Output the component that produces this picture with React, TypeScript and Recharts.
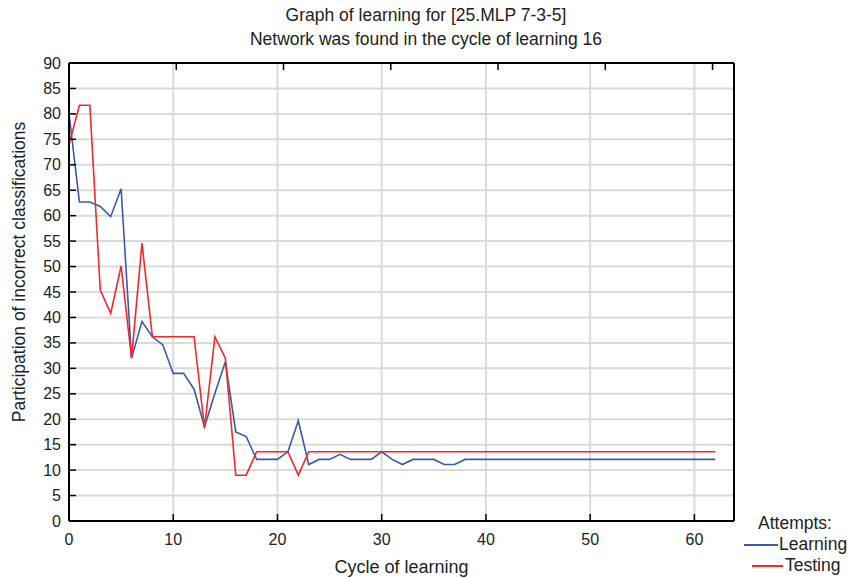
import { LineChart, Line, XAxis, YAxis, CartesianGrid } from "recharts"

const cycles = [
  0, 1, 2, 3, 4, 5, 6, 7, 8, 9, 10, 11, 12, 13, 14, 15, 16, 17, 18, 19, 20, 21, 22, 23, 24, 25, 26, 27, 28, 29, 30,
  31, 32, 33, 34, 35, 36, 37, 38, 39, 40, 41, 42, 43, 44, 45, 46, 47, 48, 49, 50, 51, 52, 53, 54, 55, 56, 57, 58,
  59, 60, 61, 62,
]

const learning = [
  80, 62.7, 62.7, 61.8, 59.8, 65.3, 32, 39.2, 36.2, 34.6, 29, 29, 25.9, 18.5, 25.1, 31.3, 17.5, 16.6, 12.1, 12.1,
  12.1, 13.6, 19.7, 11.1, 12.1, 12.1, 13.1, 12.1, 12.1, 12.1, 13.6, 12.1, 11.1, 12.1, 12.1, 12.1, 11.1, 11.1, 12.1,
  12.1, 12.1, 12.1, 12.1, 12.1, 12.1, 12.1, 12.1, 12.1, 12.1, 12.1, 12.1, 12.1, 12.1, 12.1, 12.1, 12.1, 12.1, 12.1,
  12.1, 12.1, 12.1, 12.1, 12.1,
]

const testing = [
  74, 81.7, 81.7, 45.4, 40.8, 50.1, 32, 54.6, 36.2, 36.2, 36.2, 36.2, 36.2, 18.3, 36.2, 32, 9, 9, 13.6, 13.6, 13.6,
  13.6, 9, 13.6, 13.6, 13.6, 13.6, 13.6, 13.6, 13.6, 13.6, 13.6, 13.6, 13.6, 13.6, 13.6, 13.6, 13.6, 13.6, 13.6,
  13.6, 13.6, 13.6, 13.6, 13.6, 13.6, 13.6, 13.6, 13.6, 13.6, 13.6, 13.6, 13.6, 13.6, 13.6, 13.6, 13.6, 13.6, 13.6,
  13.6, 13.6, 13.6, 13.6,
]

const xTicks = [0, 10, 20, 30, 40, 50, 60]
const yTicks = [0, 5, 10, 15, 20, 25, 30, 35, 40, 45, 50, 55, 60, 65, 70, 75, 80, 85, 90]

const data = cycles.map((c, i) => ({ cycle: c, learning: learning[i], testing: testing[i] }))

const font = "'Liberation Sans', Arial, sans-serif"
const TICK = 7

const LeftTick = ({ x, y, payload }: any) => (
  <g>
    <line x1={x} x2={x + TICK} y1={y} y2={y} stroke="#000" strokeWidth={1.5} />
    <text x={x - 8} y={y} dy={5.5} textAnchor="end" fontSize={16} fill="#222" fontFamily={font}>
      {payload.value}
    </text>
  </g>
)

const RightTick = ({ x, y }: any) => <line x1={x - TICK} x2={x} y1={y} y2={y} stroke="#000" strokeWidth={1.5} />

const BottomTick = ({ x, y, payload }: any) => (
  <g>
    <line x1={x} x2={x} y1={y - TICK} y2={y} stroke="#000" strokeWidth={1.5} />
    <text x={x} y={y + 24} textAnchor="middle" fontSize={16} fill="#222" fontFamily={font}>
      {payload.value}
    </text>
  </g>
)

const TopTick = ({ x, y }: any) => <line x1={x} x2={x} y1={y} y2={y + TICK} stroke="#000" strokeWidth={1.5} />

export default function App() {
  return (
    <div style={{ position: "absolute", left: 0, top: 0, width: 852, height: 578, background: "#fff", fontFamily: font, color: "#222" }}>
      <div style={{ position: "absolute", left: 0, top: 3, width: 852, textAlign: "center", fontSize: 17.5, lineHeight: "24px" }}>
        <div>Graph of learning for [25.MLP 7-3-5]</div>
        <div>Network was found in the cycle of learning 16</div>
      </div>
      <div
        style={{
          position: "absolute",
          left: 19,
          top: 272,
          transform: "translate(-50%, -50%) rotate(-90deg)",
          whiteSpace: "nowrap",
          fontSize: 17.5,
        }}
      >
        Participation of incorrect classifications
      </div>
      <div style={{ position: "absolute", left: 0, top: 557, width: 803, textAlign: "center", fontSize: 18 }}>
        Cycle of learning
      </div>
      <div style={{ position: "absolute", left: 744, top: 513, fontSize: 17.5, lineHeight: "21px" }}>
        <div style={{ paddingLeft: 14 }}>Attempts:</div>
        <div style={{ display: "flex", alignItems: "center" }}>
          <span style={{ display: "inline-block", width: 34, height: 2, background: "#3a5ba8", marginRight: 1 }} />
          Learning
        </div>
        <div style={{ display: "flex", alignItems: "center", paddingLeft: 8 }}>
          <span style={{ display: "inline-block", width: 31, height: 2, background: "#ee2a2a", marginRight: 2 }} />
          Testing
        </div>
      </div>
      <LineChart
        width={852}
        height={578}
        data={data}
        margin={{ top: 53, right: 108, bottom: 27, left: 0 }}
        style={{ position: "absolute", left: 0, top: 0 }}
      >
        <CartesianGrid stroke="#dadada" strokeWidth={2} horizontalValues={yTicks} verticalValues={xTicks} />
        <XAxis
          dataKey="cycle"
          type="number"
          domain={[0, 63.8]}
          ticks={xTicks}
          height={30}
          tickSize={0}
          tickMargin={0}
          tick={<BottomTick />}
          axisLine={{ stroke: "#000", strokeWidth: 2 }}
          tickLine={false}
        />
        <XAxis
          xAxisId="top"
          orientation="top"
          type="number"
          domain={[0, 63.8]}
          ticks={xTicks}
          height={10}
          tickSize={0}
          tickMargin={0}
          tick={<TopTick />}
          axisLine={{ stroke: "#000", strokeWidth: 2 }}
          tickLine={false}
        />
        <YAxis
          type="number"
          domain={[0, 90]}
          ticks={yTicks}
          width={69}
          tickSize={0}
          tickMargin={0}
          tick={<LeftTick />}
          axisLine={{ stroke: "#000", strokeWidth: 2 }}
          tickLine={false}
          interval={0}
        />
        <YAxis
          yAxisId="right"
          orientation="right"
          type="number"
          domain={[0, 90]}
          ticks={yTicks}
          width={10}
          tickSize={0}
          tickMargin={0}
          tick={<RightTick />}
          axisLine={{ stroke: "#000", strokeWidth: 2 }}
          tickLine={false}
          interval={0}
        />
        <Line type="linear" dataKey="learning" stroke="#3a5ba8" strokeWidth={1.6} dot={false} isAnimationActive={false} />
        <Line type="linear" dataKey="testing" stroke="#ee2a2a" strokeWidth={1.6} dot={false} isAnimationActive={false} />
      </LineChart>
    </div>
  )
}
